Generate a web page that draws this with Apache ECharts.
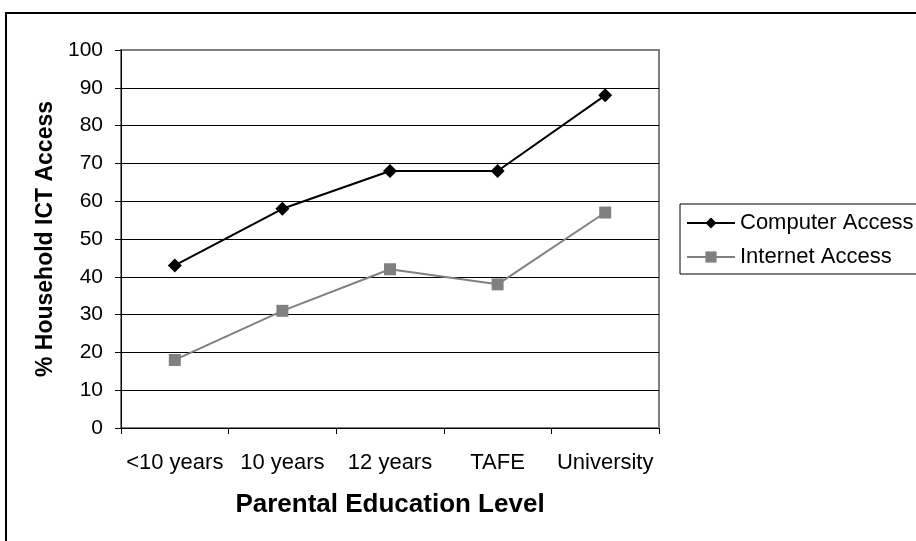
<!DOCTYPE html>
<html>
<head>
<meta charset="utf-8">
<script src="https://cdn.jsdelivr.net/npm/echarts@6/dist/echarts.min.js"></script>
<style>
  html, body { margin: 0; padding: 0; background: #fff; }
  #chart { width: 916px; height: 541px; }
</style>
</head>
<body>
<div id="chart"></div>
<script>
// Household ICT access by parental education level
var categories = ['<10 years', '10 years', '12 years', 'TAFE', 'University'];
var computerAccess = [43, 58, 68, 68, 88];
var internetAccess = [18, 31, 42, 38, 57];
var yTicks = [0, 10, 20, 30, 40, 50, 60, 70, 80, 90, 100];

var FONT = '"Liberation Sans", Arial, sans-serif';

// grid lines are black except the top one, which is part of the grey plot frame
var splitColors = yTicks.map(function (v, i) { return i === yTicks.length - 1 ? '#808080' : '#000'; });

var chart = echarts.init(document.getElementById('chart'), null, { renderer: 'canvas' });
chart.setOption({
  backgroundColor: '#fff',
  animation: false,
  textStyle: { fontFamily: FONT },
  graphic: [{
    type: 'rect',
    shape: { x: 6, y: 13, width: 1000, height: 700 },
    style: { fill: 'none', stroke: '#000', lineWidth: 2 },
    silent: true,
    z: 0
  }],
  grid: {
    left: 121, right: 257, top: 50, bottom: 113,
    show: true, borderColor: '#808080', borderWidth: 2, backgroundColor: 'transparent'
  },
  legend: {
    orient: 'vertical',
    left: 680, top: 204,
    padding: [7, 60, 5, 6],
    itemGap: 10,
    itemWidth: 48, itemHeight: 14,
    borderColor: '#000', borderWidth: 1,
    backgroundColor: '#fff',
    textStyle: { fontFamily: FONT, fontSize: 22, lineHeight: 24, color: '#000' },
    data: ['Computer Access', 'Internet Access']
  },
  xAxis: {
    type: 'category',
    data: categories,
    boundaryGap: true,
    name: 'Parental Education Level',
    nameLocation: 'middle',
    nameGap: 64,
    nameTextStyle: { fontFamily: FONT, fontSize: 26, fontWeight: 'bold', color: '#000' },
    axisLine: { lineStyle: { color: '#000', width: 1 } },
    axisTick: { show: true, alignWithLabel: false, length: 6, lineStyle: { color: '#000' } },
    axisLabel: { fontFamily: FONT, fontSize: 22, color: '#000', margin: 24, interval: 0 },
    splitLine: { show: false }
  },
  yAxis: {
    type: 'value',
    min: 0, max: 100, interval: 10,
    name: '% Household ICT Access',
    nameLocation: 'middle',
    nameGap: 64,
    nameRotate: 90,
    nameTextStyle: { fontFamily: FONT, fontSize: 23, fontWeight: 'bold', color: '#000' },
    axisLine: { show: true, lineStyle: { color: '#000', width: 1 } },
    axisTick: { show: true, inside: false, length: 6, lineStyle: { color: '#000' } },
    axisLabel: { fontFamily: FONT, fontSize: 21, color: '#000', margin: 18 },
    splitLine: { show: true, lineStyle: { color: splitColors, width: 1 } }
  },
  series: [{
    name: 'Computer Access',
    type: 'line',
    data: computerAccess,
    symbol: 'diamond',
    symbolSize: 14,
    lineStyle: { color: '#000', width: 2 },
    itemStyle: { color: '#000' },
    z: 3
  }, {
    name: 'Internet Access',
    type: 'line',
    data: internetAccess,
    symbol: 'rect',
    symbolSize: 12,
    lineStyle: { color: '#808080', width: 2 },
    itemStyle: { color: '#808080' },
    z: 2
  }]
});
</script>
</body>
</html>
